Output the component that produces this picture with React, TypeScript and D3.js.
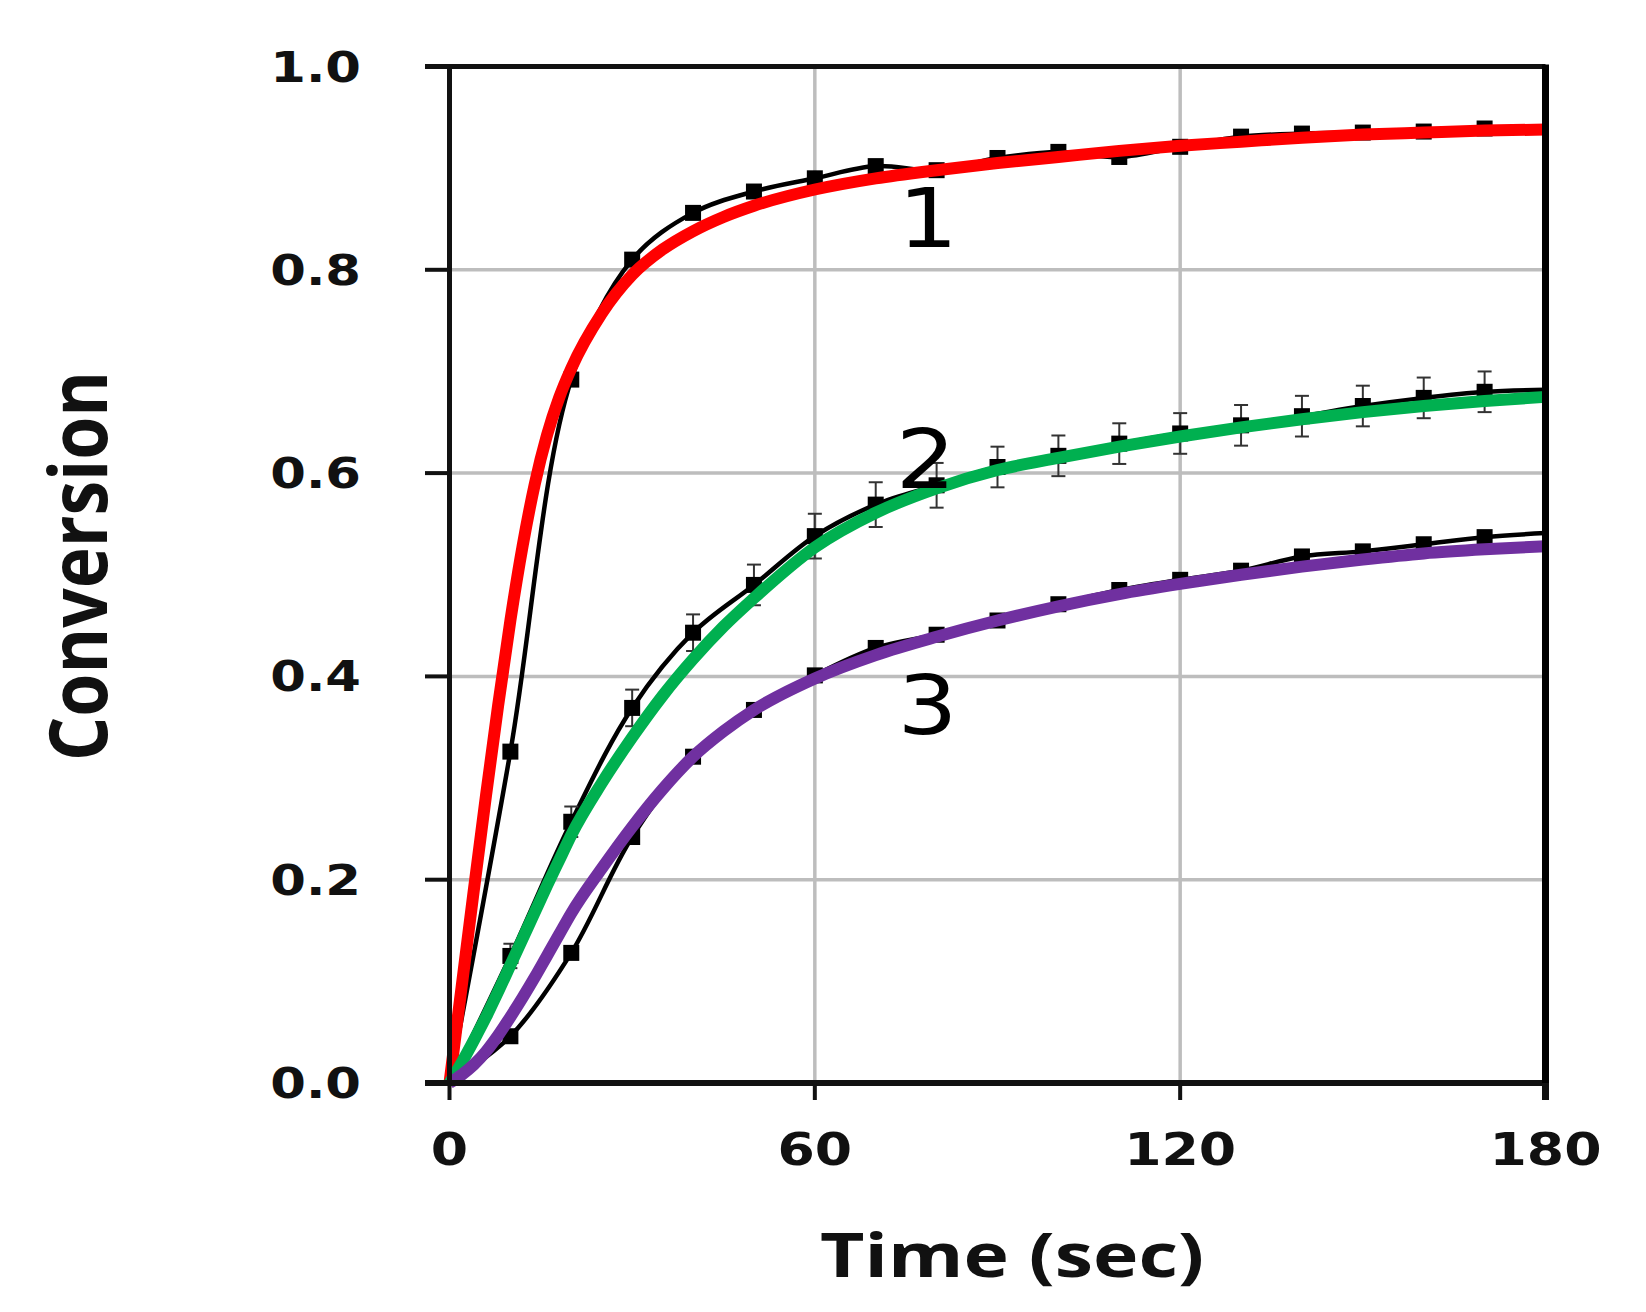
import React from 'react';
import * as d3 from 'd3';

// ---- data ----
const dataTime = [0, 10, 20, 30, 40, 50, 60, 70, 80, 90, 100, 110, 120, 130, 140, 150, 160, 170, 180];
const series1 = [0, 0.326, 0.692, 0.81, 0.856, 0.877, 0.89, 0.902, 0.898, 0.91, 0.916, 0.911, 0.921, 0.931, 0.934, 0.935, 0.936, 0.939, 0.938];
const series2 = [0, 0.125, 0.257, 0.369, 0.443, 0.49, 0.538, 0.569, 0.588, 0.606, 0.617, 0.629, 0.639, 0.647, 0.656, 0.666, 0.674, 0.68, 0.682];
const series2Err = [0, 0.012, 0.015, 0.018, 0.018, 0.02, 0.022, 0.022, 0.022, 0.02, 0.02, 0.02, 0.02, 0.02, 0.02, 0.02, 0.02, 0.02, 0];
const series3 = [0, 0.046, 0.128, 0.242, 0.321, 0.367, 0.401, 0.428, 0.441, 0.455, 0.471, 0.485, 0.495, 0.504, 0.518, 0.523, 0.53, 0.537, 0.541];

const fitTime = [0, 2, 4, 6, 8, 10, 12, 14, 16, 18, 20, 25, 30, 35, 40, 45, 50, 60, 70, 80, 90, 100, 110, 120, 130, 140, 150, 160, 170, 180];
const fit1 = [0, 0.095, 0.19, 0.283, 0.372, 0.455, 0.528, 0.589, 0.637, 0.674, 0.703, 0.757, 0.795, 0.82, 0.838, 0.852, 0.863, 0.879, 0.89, 0.898, 0.905, 0.911, 0.917, 0.922, 0.926, 0.93, 0.933, 0.935, 0.937, 0.938];
const fit2 = [0, 0.02, 0.042, 0.065, 0.09, 0.116, 0.142, 0.168, 0.194, 0.219, 0.244, 0.295, 0.34, 0.381, 0.417, 0.449, 0.477, 0.527, 0.561, 0.585, 0.603, 0.615, 0.626, 0.636, 0.645, 0.653, 0.66, 0.666, 0.671, 0.675];
const fit3 = [0, 0.008, 0.018, 0.031, 0.047, 0.065, 0.084, 0.104, 0.125, 0.146, 0.167, 0.211, 0.252, 0.289, 0.321, 0.346, 0.367, 0.398, 0.421, 0.439, 0.455, 0.469, 0.481, 0.491, 0.5, 0.508, 0.515, 0.521, 0.525, 0.528];

const xTicks = [0, 60, 120, 180];
const xTickLabels = ['0', '60', '120', '180'];
const yTicks = [0, 0.2, 0.4, 0.6, 0.8, 1.0];
const yTickLabels = ['0.0', '0.2', '0.4', '0.6', '0.8', '1.0'];
const xGrid = [60, 120];
const yGrid = [0.2, 0.4, 0.6, 0.8];

const curveLabels = [
  { text: '1', t: 78.6, v: 0.822 },
  { text: '2', t: 78.2, v: 0.585 },
  { text: '3', t: 78.5, v: 0.343 },
];

const fitColors = ['#ff0000', '#00b050', '#7030a0'];

export default function App() {
  const W = 1646;
  const H = 1312;
  const left = 449.5, right = 1545.5, top = 66.5, bottom = 1083;
  const x = d3.scaleLinear().domain([0, 180]).range([left, right]);
  const y = d3.scaleLinear().domain([0, 1]).range([bottom, top]);

  const dataLine = d3
    .line<number>()
    .x((_, i) => x(dataTime[i]))
    .y((d) => y(d))
    .curve(d3.curveCatmullRom.alpha(0.5));

  const fitLine = d3
    .line<number>()
    .x((_, i) => x(fitTime[i]))
    .y((d) => y(d))
    .curve(d3.curveMonotoneX);

  const dataSeries = [series1, series2, series3];
  const fits = [fit1, fit2, fit3];
  const ms = 16;
  const stretch = 1.22;

  return (
    <div style={{ position: 'absolute', left: 0, top: 0 }}>
      <svg width={W} height={H} style={{ display: 'block', background: '#fff' }}>
        <rect x={0} y={0} width={W} height={H} fill="#fff" />
        {/* grid */}
        {yGrid.map((v) => (
          <line key={'gy' + v} x1={left} x2={right} y1={y(v)} y2={y(v)} stroke="#bdbdbd" strokeWidth={3.5} />
        ))}
        {xGrid.map((v) => (
          <line key={'gx' + v} x1={x(v)} x2={x(v)} y1={top} y2={bottom} stroke="#bdbdbd" strokeWidth={3.5} />
        ))}

        {/* data lines */}
        {dataSeries.map((s, k) => (
          <path key={'dl' + k} d={dataLine(s) || ''} fill="none" stroke="#000" strokeWidth={4.5} />
        ))}
        {/* error bars series 2 */}
        {series2.map((v, i) =>
          series2Err[i] > 0 ? (
            <g key={'eb' + i} stroke="#333" strokeWidth={2}>
              <line x1={x(dataTime[i])} x2={x(dataTime[i])} y1={y(v - series2Err[i])} y2={y(v + series2Err[i])} />
              <line x1={x(dataTime[i]) - 7} x2={x(dataTime[i]) + 7} y1={y(v + series2Err[i])} y2={y(v + series2Err[i])} />
              <line x1={x(dataTime[i]) - 7} x2={x(dataTime[i]) + 7} y1={y(v - series2Err[i])} y2={y(v - series2Err[i])} />
            </g>
          ) : null
        )}
        {/* markers */}
        {dataSeries.map((s, k) =>
          s.map((v, i) =>
            dataTime[i] > 0 && dataTime[i] < 180 ? (
              <rect key={'m' + k + '-' + i} x={x(dataTime[i]) - ms / 2} y={y(v) - ms / 2} width={ms} height={ms} fill="#000" />
            ) : null
          )
        )}

        {/* fitted curves */}
        {fits.map((f, k) => (
          <path key={'fit' + k} d={fitLine(f) || ''} fill="none" stroke={fitColors[k]} strokeWidth={12} strokeLinecap="butt" />
        ))}

        {/* axes frame */}
        <line x1={425} x2={right} y1={top} y2={top} stroke="#111" strokeWidth={5} />
        <line x1={425} x2={right + 3} y1={bottom} y2={bottom} stroke="#111" strokeWidth={6} />
        <line x1={left} x2={left} y1={top} y2={bottom} stroke="#111" strokeWidth={5} />
        <line x1={right} x2={right} y1={top - 2} y2={bottom + 17} stroke="#000" strokeWidth={7} />
        {yTicks.map((v) => (
          <line key={'ty' + v} x1={425} x2={left} y1={y(v)} y2={y(v)} stroke="#111" strokeWidth={4} />
        ))}
        {xTicks.map((v) => (
          <line key={'tx' + v} x1={x(v)} x2={x(v)} y1={bottom} y2={bottom + 17} stroke="#111" strokeWidth={v === 180 ? 7 : 4} />
        ))}

        {/* tick labels */}
        {yTicks.map((v, i) => (
          <text
            key={'ly' + v}
            transform={`translate(361,${y(v) + 15}) scale(${stretch},1)`}
            textAnchor="end"
            fontFamily="'DejaVu Sans', sans-serif"
            fontWeight="bold"
            fontSize={42}
            fill="#111"
          >
            {yTickLabels[i]}
          </text>
        ))}
        {xTicks.map((v, i) => (
          <text
            key={'lx' + v}
            transform={`translate(${x(v)},1165) scale(${stretch},1)`}
            textAnchor="middle"
            fontFamily="'DejaVu Sans', sans-serif"
            fontWeight="bold"
            fontSize={44}
            fill="#111"
          >
            {xTickLabels[i]}
          </text>
        ))}

        {/* curve labels */}
        {curveLabels.map((c) => (
          <text
            key={'cl' + c.text}
            transform={`translate(${x(c.t)},${y(c.v)}) scale(1.15,1)`}
            textAnchor="middle"
            fontFamily="'DejaVu Sans', sans-serif"
            fontSize={82}
            fill="#000"
          >
            {c.text}
          </text>
        ))}

        {/* axis titles */}
        <text
          x={1012}
          y={1277}
          textAnchor="middle"
          fontFamily="'Open Sans', sans-serif"
          fontWeight="bold"
          fontSize={61}
          textLength={384}
          lengthAdjust="spacingAndGlyphs"
          fill="#111"
        >
          Time (sec)
        </text>
        <text
          transform={`translate(107,566) scale(1.18,1) rotate(-90)`}
          textAnchor="middle"
          fontFamily="'Open Sans', sans-serif"
          fontWeight="bold"
          fontSize={68}
          textLength={390}
          lengthAdjust="spacingAndGlyphs"
          fill="#111"
        >
          Conversion
        </text>
      </svg>
    </div>
  );
}
